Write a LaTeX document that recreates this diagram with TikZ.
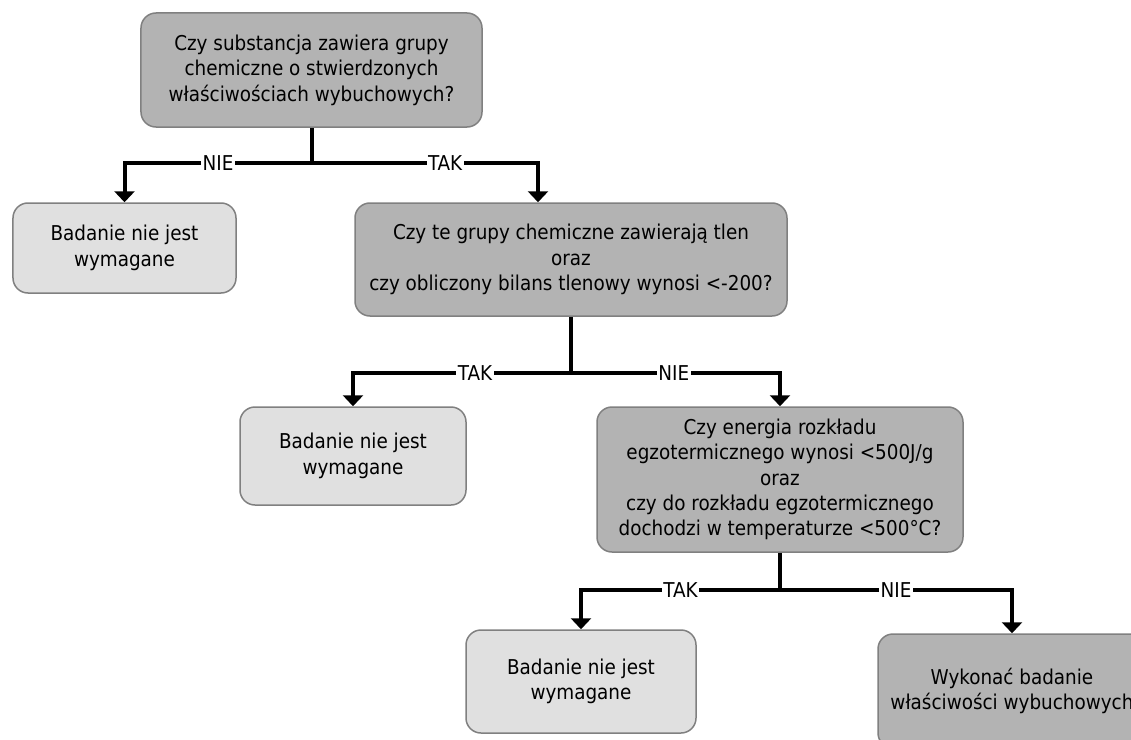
\documentclass[tikz,border=0pt]{standalone}
\usepackage{fontspec}
\setmainfont{DejaVu Sans Condensed}
\usetikzlibrary{arrows.meta}
\definecolor{qdark}{HTML}{B3B3B3}
\definecolor{qlight}{HTML}{E0E0E0}
\definecolor{qedge}{HTML}{808080}
\begin{document}
\begin{tikzpicture}[x=1bp,y=-1bp,
  box/.style={draw=qedge, line width=1.5bp, rounded corners=15bp, align=center,
    inner sep=0pt, font=\fontsize{20.5}{25.5}\selectfont},
  question/.style={box, fill=qdark},
  outcome/.style={box, fill=qlight},
  branch/.style={line width=4bp},
  link/.style={line width=4bp, -{Triangle[width=20bp,length=11bp]}},
  lbl/.style={fill=white, inner xsep=1.5bp, inner ysep=0pt, font=\fontsize{20.5}{22}\selectfont}
]
\useasboundingbox (0,0) rectangle (1131,740);
\clip (0,0) rectangle (1131,740);

% decision boxes and outcomes
\node[question, minimum width=341bp, minimum height=114bp] (q1) at (311.5,70)
  {Czy substancja zawiera grupy\\chemiczne o stwierdzonych\\właściwościach wybuchowych?};
\node[outcome, minimum width=223bp, minimum height=90bp] (n1) at (124.5,248)
  {Badanie nie jest\\wymagane};
\node[question, minimum width=432bp, minimum height=113bp] (q2) at (571,259.5)
  {Czy te grupy chemiczne zawierają tlen\\oraz\\czy obliczony bilans tlenowy wynosi <-200?};
\node[outcome, minimum width=226bp, minimum height=98bp] (n2) at (353,456)
  {Badanie nie jest\\wymagane};
\node[question, minimum width=366bp, minimum height=145bp] (q3) at (780,479.5)
  {Czy energia rozkładu\\egzotermicznego wynosi <500J/g\\oraz\\czy do rozkładu egzotermicznego\\dochodzi w temperaturze <500°C?};
\node[outcome, minimum width=230bp, minimum height=103bp] (n3) at (581,681.5)
  {Badanie nie jest\\wymagane};
\node[question, minimum width=268bp, minimum height=114bp] (n4) at (1012,691)
  {Wykonać badanie\\właściwości wybuchowych};

% branching points
\coordinate (s1) at (311.5,163);
\coordinate (s2) at (571,373);
\coordinate (s3) at (780,590);

% level 1
\draw[branch] (q1.south) -- (s1);
\draw[link] (s1) -| node[lbl, pos=0.25] {NIE} (n1.north);
\draw[link] (s1) -| node[lbl, pos=0.295] {TAK} ([xshift=-33bp]q2.north);

% level 2
\draw[branch] (q2.south) -- (s2);
\draw[link] (s2) -| node[lbl, pos=0.22] {TAK} (n2.north);
\draw[link] (s2) -| node[lbl, pos=0.246] {NIE} (q3.north);

% level 3
\draw[branch] (q3.south) -- (s3);
\draw[link] (s3) -| node[lbl, pos=0.25] {TAK} (n3.north);
\draw[link] (s3) -| node[lbl, pos=0.25] {NIE} (n4.north);
\end{tikzpicture}
\end{document}
